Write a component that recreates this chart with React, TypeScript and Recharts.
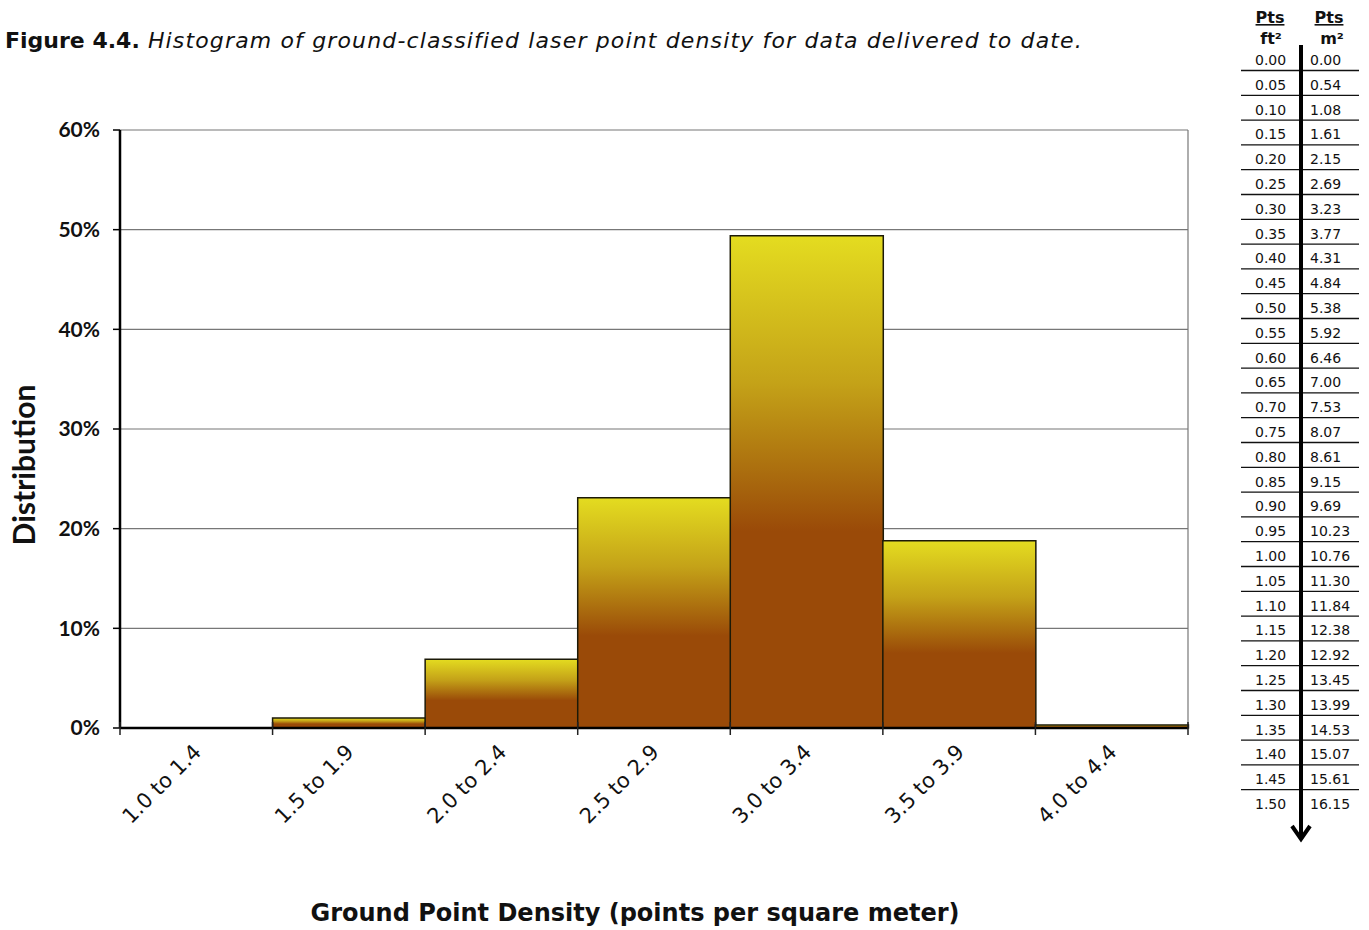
import { BarChart, Bar, XAxis, YAxis, CartesianGrid } from 'recharts'

// Ground point density histogram, share of delivered area per bin (percent)
const densityBins = ['1.0 to 1.4', '1.5 to 1.9', '2.0 to 2.4', '2.5 to 2.9', '3.0 to 3.4', '3.5 to 3.9', '4.0 to 4.4']
const distribution = [0, 1.0, 6.9, 23.1, 49.4, 18.8, 0.3]
const percentTicks = [0, 10, 20, 30, 40, 50, 60]

// Conversion table: points per square foot -> points per square meter
const ptsPerFt2 = ['0.00', '0.05', '0.10', '0.15', '0.20', '0.25', '0.30', '0.35', '0.40', '0.45', '0.50', '0.55', '0.60', '0.65', '0.70', '0.75', '0.80', '0.85', '0.90', '0.95', '1.00', '1.05', '1.10', '1.15', '1.20', '1.25', '1.30', '1.35', '1.40', '1.45', '1.50']
const ptsPerM2 = ['0.00', '0.54', '1.08', '1.61', '2.15', '2.69', '3.23', '3.77', '4.31', '4.84', '5.38', '5.92', '6.46', '7.00', '7.53', '8.07', '8.61', '9.15', '9.69', '10.23', '10.76', '11.30', '11.84', '12.38', '12.92', '13.45', '13.99', '14.53', '15.07', '15.61', '16.15']

const data = densityBins.map((bin, i) => ({ bin, share: distribution[i] }))

const TITLE_FONT = '"DejaVu Sans", Verdana, sans-serif'
const AXIS_FONT = 'Lato, "Open Sans", sans-serif'

// category tick: boundary marks between bins plus a rotated label
const BinTick = (props: any) => {
  const { x, y, payload, index, visibleTicksCount } = props
  const half = payload?.offset ?? 0
  const axisY = y - 8
  const lx = x + 1
  const ly = y + 12
  return (
    <g>
      <line x1={x - half} x2={x - half} y1={axisY - 6} y2={axisY + 7} stroke="#222" strokeWidth={1.5} />
      {index === visibleTicksCount - 1 && (
        <line x1={x + half} x2={x + half} y1={axisY - 6} y2={axisY + 7} stroke="#222" strokeWidth={1.5} />
      )}
      <text
        x={lx}
        y={ly}
        transform={`rotate(-45 ${lx} ${ly})`}
        textAnchor="end"
        dy="0.35em"
        fontFamily={TITLE_FONT}
        fontSize={21}
        fill="#111"
      >
        {payload.value}
      </text>
    </g>
  )
}

const ConversionTable = () => {
  const rowY = (i: number) => 60 + i * 24.8
  return (
    <svg width={1369} height={930} style={{ position: 'absolute', left: 0, top: 0, pointerEvents: 'none' }}>
      <text x={5} y={48} fontFamily={TITLE_FONT} fontSize={22} fill="#111">
        <tspan fontWeight={700}>Figure 4.4.</tspan>
        <tspan fontStyle="italic" letterSpacing={1.15}> Histogram of ground-classified laser point density for data delivered to date.</tspan>
      </text>

      <g fontFamily={TITLE_FONT} fontWeight={700} fontSize={16} fill="#111" textAnchor="middle">
        <text x={1270} y={23} textDecoration="underline">Pts</text>
        <text x={1271} y={44}>ft²</text>
        <text x={1329} y={23} textDecoration="underline">Pts</text>
        <text x={1332} y={44}>m²</text>
      </g>

      <g fontFamily={TITLE_FONT} fontSize={14} fill="#111">
        {ptsPerFt2.map((v, i) => (
          <text key={`ft-${v}`} x={1255} y={rowY(i) + 5}>{v}</text>
        ))}
        {ptsPerM2.map((v, i) => (
          <text key={`m-${v}`} x={1310} y={rowY(i) + 5}>{v}</text>
        ))}
      </g>

      {ptsPerFt2.slice(0, -1).map((_, i) => (
        <line key={`rule-${i}`} x1={1241} x2={1359} y1={rowY(i) + 10.5} y2={rowY(i) + 10.5} stroke="#111" strokeWidth={1.3} />
      ))}

      <line x1={1301} x2={1301} y1={45} y2={838} stroke="#000" strokeWidth={4} />
      <polyline points="1292,826 1301,839 1310,826" fill="none" stroke="#000" strokeWidth={4} strokeLinejoin="miter" />
    </svg>
  )
}

export default function App() {
  return (
    <div style={{ position: 'absolute', left: 0, top: 0, width: 1369, height: 930, background: '#fff' }}>
      <BarChart
        width={1200}
        height={930}
        data={data}
        margin={{ top: 130, right: 12, bottom: 2, left: 40 }}
        barCategoryGap={0}
        style={{ position: 'absolute', left: 0, top: 0 }}
      >
        <defs>
          <linearGradient id="binFill" x1="0" y1="0" x2="0" y2="1">
            <stop offset="0%" stopColor="#e4dc20" />
            <stop offset="30%" stopColor="#c4a218" />
            <stop offset="60%" stopColor="#9a4a08" />
            <stop offset="100%" stopColor="#9a4a08" />
          </linearGradient>
        </defs>
        <CartesianGrid
          stroke="#777"
          strokeWidth={1.2}
          verticalCoordinatesGenerator={({ offset }: any) => [offset.left + offset.width]}
        />
        <Bar dataKey="share" fill="url(#binFill)" stroke="#1c1a08" strokeWidth={1.5} isAnimationActive={false} />
        <XAxis
          dataKey="bin"
          height={200}
          interval={0}
          tickLine={false}
          axisLine={{ stroke: '#000', strokeWidth: 2.5 }}
          tick={<BinTick />}
          label={{
            content: ({ viewBox }: any) => (
              <text
                x={viewBox.x + viewBox.width / 2 - 19}
                y={921}
                textAnchor="middle"
                fontFamily={TITLE_FONT}
                fontWeight={700}
                fontSize={24}
                fill="#111"
              >
                Ground Point Density (points per square meter)
              </text>
            ),
          }}
        />
        <YAxis
          width={80}
          domain={[0, 60]}
          ticks={percentTicks}
          interval={0}
          tickFormatter={(v: number) => `${v}%`}
          tickSize={7}
          tickMargin={13}
          tickLine={{ stroke: '#000', strokeWidth: 1.5 }}
          axisLine={{ stroke: '#000', strokeWidth: 2.5 }}
          tick={{ fontFamily: AXIS_FONT, fontWeight: 700, fontSize: 21, fill: '#111' }}
          label={{
            content: () => (
              <text
                x={35}
                y={465}
                transform="rotate(-90 35 465)"
                textAnchor="middle"
                fontFamily={AXIS_FONT}
                fontWeight={700}
                fontSize={30}
                fill="#111"
              >
                Distribution
              </text>
            ),
          }}
        />
      </BarChart>
      <ConversionTable />
    </div>
  )
}
